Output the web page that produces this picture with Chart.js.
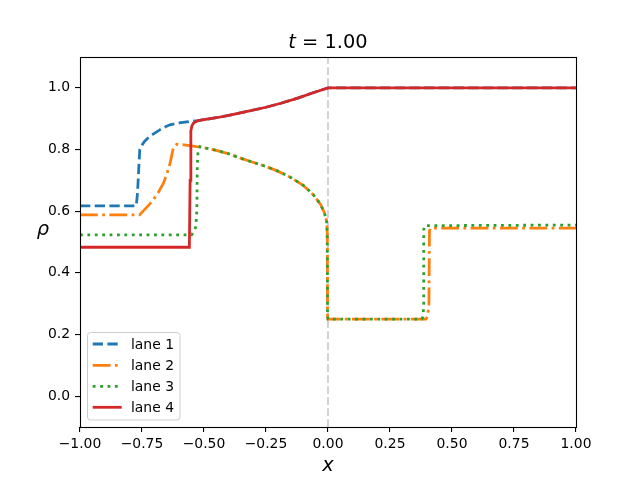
<!DOCTYPE html>
<html>
<head>
<meta charset="utf-8">
<script src="https://cdn.jsdelivr.net/npm/chart.js@4.4.1/dist/chart.umd.min.js"></script>
<style>
  html, body { margin: 0; padding: 0; background: #fff; }
  #wrap { width: 640px; height: 480px; position: relative; }
</style>
</head>
<body>
<div id="wrap"><canvas id="graphique"></canvas></div>
<script>
// Données (x, rho) pour chaque voie
const lane1_x = [-1, -0.773, -0.768, -0.763, -0.759, -0.752, -0.74, -0.725, -0.705, -0.68, -0.655, -0.637, -0.6, -0.556, -0.524, -0.45, -0.4, -0.33, -0.25, -0.19, -0.125, -0.06, 0, 1];
const lane1_y = [0.617, 0.617, 0.66, 0.74, 0.80, 0.812, 0.826, 0.838, 0.850, 0.863, 0.874, 0.880, 0.886, 0.891, 0.894, 0.903, 0.911, 0.923, 0.937, 0.950, 0.966, 0.984, 1.0, 1.0];

const lane2_x = [-1, -0.76, -0.74, -0.72, -0.705, -0.685, -0.664, -0.65, -0.637, -0.624, -0.61, -0.58, -0.53, -0.5, -0.45, -0.4, -0.35, -0.3, -0.25, -0.2, -0.15, -0.1, -0.06, -0.03, -0.015, -0.006, -0.003, -0.002, 0.0, 0.395, 0.402, 0.407, 0.409, 0.413, 1];
const lane2_y = [0.588, 0.588, 0.605, 0.622, 0.636, 0.66, 0.690, 0.72, 0.755, 0.804, 0.817, 0.815, 0.809, 0.806, 0.797, 0.786, 0.771, 0.758, 0.745, 0.729, 0.709, 0.684, 0.654, 0.622, 0.596, 0.57, 0.53, 0.26, 0.25, 0.25, 0.26, 0.30, 0.535, 0.545, 0.545];

const lane3_x = [-1, -0.550, -0.540, -0.533, -0.529, -0.527, -0.524, -0.516, -0.5, -0.45, -0.4, -0.35, -0.3, -0.25, -0.2, -0.15, -0.1, -0.06, -0.03, -0.015, -0.006, -0.003, -0.002, 0.0, 0.378, 0.383, 0.386, 0.386, 0.39, 1];
const lane3_y = [0.523, 0.523, 0.535, 0.55, 0.60, 0.75, 0.795, 0.809, 0.806, 0.797, 0.786, 0.771, 0.758, 0.745, 0.729, 0.709, 0.684, 0.654, 0.622, 0.596, 0.57, 0.53, 0.26, 0.25, 0.25, 0.258, 0.30, 0.54, 0.553, 0.555];

const lane4_x = [-1, -0.559, -0.556, -0.553, -0.549, -0.542, -0.524, -0.45, -0.4, -0.33, -0.25, -0.19, -0.125, -0.06, 0, 1];
const lane4_y = [0.483, 0.483, 0.70, 0.86, 0.876, 0.886, 0.894, 0.903, 0.911, 0.923, 0.937, 0.950, 0.966, 0.984, 1.0, 1.0];

const vline_x = [0, 0];
const vline_y = [-0.1, 1.1];

const lanes = ['lane 1', 'lane 2', 'lane 3', 'lane 4'];
const y_ticks = [0, 0.2, 0.4, 0.6, 0.8, 1.0];
const x_ticks = [-1, -0.75, -0.5, -0.25, 0, 0.25, 0.5, 0.75, 1];
const titre = ['t', ' = 1.00'];

const COULEURS = { bleu: '#1f77b4', orange: '#ff7f0e', vert: '#2ca02c', rouge: '#d62728', gris: '#d3d3d3' };
const LW = 2.78;
const POLICE = "'DejaVu Sans', sans-serif";

function points(xs, ys) {
  return xs.map((x, i) => ({ x: x, y: ys[i] }));
}

function serie(label, xs, ys, couleur, dash, ordre) {
  return {
    label: label, data: points(xs, ys), borderColor: couleur, backgroundColor: couleur,
    borderWidth: LW, borderDash: dash, pointRadius: 0, tension: 0, fill: false, order: ordre,
  };
}

const datasets = [
  serie(lanes[0], lane1_x, lane1_y, COULEURS.bleu, [10.3, 4.4], 4),
  serie(lanes[1], lane2_x, lane2_y, COULEURS.orange, [17.8, 4.4, 2.8, 4.4], 3),
  serie(lanes[2], lane3_x, lane3_y, COULEURS.vert, [2.8, 4.6], 2),
  serie(lanes[3], lane4_x, lane4_y, COULEURS.rouge, [], 1),
  { label: 'x = 0', data: points(vline_x, vline_y), borderColor: COULEURS.gris, borderWidth: 2.08,
    borderDash: [7.7, 3.3], pointRadius: 0, order: 5 },
];

// Cadre, titre, labels des axes et légende façon matplotlib
const habillage = {
  id: 'habillage',
  afterDatasetsDraw(chart) {
    const ctx = chart.ctx;
    const a = chart.chartArea;
    ctx.save();
    // cadre
    ctx.strokeStyle = '#000';
    ctx.lineWidth = 1.1;
    ctx.strokeRect(Math.round(a.left) + 0.5, Math.round(a.top) + 0.5, Math.round(a.right - a.left), Math.round(a.bottom - a.top));

    // titre
    ctx.fillStyle = '#000';
    ctx.textBaseline = 'alphabetic';
    const fItal = "italic 19.4px " + POLICE;
    const fNorm = "19.4px " + POLICE;
    ctx.font = fItal;
    const w1 = ctx.measureText(titre[0]).width;
    ctx.font = fNorm;
    const w2 = ctx.measureText(titre[1]).width;
    const cx = (a.left + a.right) / 2;
    let x0 = cx - (w1 + w2) / 2;
    ctx.textAlign = 'left';
    ctx.font = fItal;
    ctx.fillText(titre[0], x0, 48);
    ctx.font = fNorm;
    ctx.fillText(titre[1], x0 + w1, 48);

    // labels des axes
    ctx.font = fItal;
    ctx.textAlign = 'center';
    ctx.fillText('x', cx, 471);
    ctx.fillText('\u03c1', 43, 235);

    // légende
    const bx = 87.5, by = 332.5, bw = 92.5, bh = 87.5;
    ctx.beginPath();
    ctx.roundRect(bx, by, bw, bh, 3);
    ctx.fillStyle = 'rgba(255,255,255,0.8)';
    ctx.fill();
    ctx.strokeStyle = '#cccccc';
    ctx.lineWidth = 1;
    ctx.stroke();
    const rangs = [344, 365.3, 386.3, 407.3];
    ctx.font = "13.9px " + POLICE;
    ctx.textAlign = 'left';
    ctx.textBaseline = 'middle';
    for (let i = 0; i < 4; i++) {
      const d = chart.data.datasets[i];
      ctx.beginPath();
      ctx.setLineDash(d.borderDash);
      ctx.strokeStyle = d.borderColor;
      ctx.lineWidth = LW;
      ctx.lineCap = 'butt';
      ctx.moveTo(92.7, rangs[i]);
      ctx.lineTo(121.7, rangs[i]);
      ctx.stroke();
      ctx.setLineDash([]);
      ctx.fillStyle = '#000';
      ctx.fillText(d.label, 131, rangs[i] + 1);
    }
    ctx.restore();
  }
};

const options = {
  animation: false,
  responsive: false,
  maintainAspectRatio: false,
  layout: { padding: { top: 57, right: 64, left: 0, bottom: 0 } },
  scales: {
    x: {
      type: 'linear', min: -1, max: 1,
      afterFit: (s) => { s.height = 53; },
      afterBuildTicks: (s) => { s.ticks = x_ticks.map(v => ({ value: v })); },
      border: { display: false },
      grid: { drawOnChartArea: false, drawTicks: true, tickLength: 5, color: '#000', lineWidth: 1.1 },
      ticks: {
        color: '#000', padding: 4, maxRotation: 0, autoSkip: false,
        font: { family: POLICE, size: 13.9 },
        callback: (v) => v.toFixed(2).replace('-', '\u2212'),
      },
    },
    y: {
      type: 'linear', min: -0.1, max: 1.1,
      afterFit: (s) => { s.width = 80; },
      afterBuildTicks: (s) => { s.ticks = y_ticks.map(v => ({ value: v })); },
      border: { display: false },
      grid: { drawOnChartArea: false, drawTicks: true, tickLength: 5, color: '#000', lineWidth: 1.1 },
      ticks: {
        color: '#000', padding: 5, autoSkip: false,
        font: { family: POLICE, size: 13.9 },
        callback: (v) => v.toFixed(1).replace('-', '\u2212'),
      },
    },
  },
  plugins: {
    legend: { display: false },
    title: { display: false },
    tooltip: { enabled: false },
  },
};

const ctx = document.getElementById('graphique');
ctx.width = 640;
ctx.height = 480;
new Chart(ctx, { type: 'line', data: { datasets: datasets }, options: options, plugins: [habillage] });
</script>
</body>
</html>
